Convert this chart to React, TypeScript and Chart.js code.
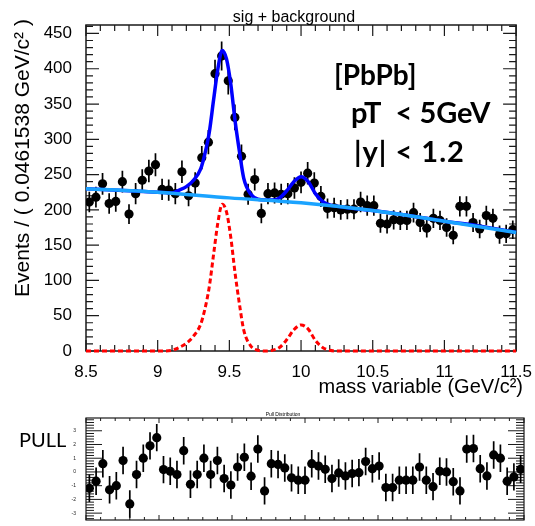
import React, { useEffect, useRef } from "react";
import { Chart, registerables } from "chart.js";

Chart.register(...registerables);

// ---------- axis / binning ----------
const X_MIN = 8.5;
const X_MAX = 11.5;
const BIN_WIDTH = 0.0461538;
const Y_MAX = 462;
const PULL_MIN = -3.5;
const PULL_MAX = 3.93;

const xTickValues = [8.5, 9, 9.5, 10, 10.5, 11, 11.5];
const yTickValues = [0, 50, 100, 150, 200, 250, 300, 350, 400, 450];
const pullTickValues = [-3, -2, -1, 0, 1, 2, 3];

// ---------- data (events per bin) ----------
const counts = [
  211, 218, 237, 209, 212, 240, 194, 223, 242, 255,
  264, 229, 228, 223, 254, 220, 238, 274, 296, 393,
  418, 383, 331, 276, 222, 243, 195, 223, 224, 222,
  223, 231, 239, 252, 238, 219, 202, 203, 200, 201,
  201, 211, 206, 206, 181, 180, 186, 185, 185, 196,
  182, 174, 188, 185, 175, 164, 205, 205, 182, 173,
  192, 188, 165, 166, 172,
];

// ---------- pulls per bin ----------
const pulls = [
  -1.19, -0.67, 0.6, -1.3, -1.0, 0.83, -2.33, -0.19, 1.0, 1.9,
  2.5, 0.17, 0.05, -0.19, 1.55, -0.9, -0.19, 1.0, -0.19, 0.83,
  -0.48, -0.95, 0.36, 1.07, -0.31, 1.67, -1.38, 0.6, 0.55, 0.29,
  -0.43, -0.6, -0.6, 0.6, 0.43, 0.19, -0.48, -0.07, -0.29, -0.12,
  -0.05, 0.76, 0.24, 0.43, -1.14, -1.14, -0.6, -0.6, -0.6, 0.36,
  -0.6, -1.07, 0.05, 0, -0.71, -1.38, 1.67, 1.71, 0.24, -0.29,
  1.24, 1.0, -0.67, -0.36, 0.19,
];

// ---------- background curve ----------
const bgX = [8.5, 9.0, 9.5, 10.0, 10.5, 11.0, 11.5];
const bgY = [230, 225, 217, 210, 199, 184, 168];

// ---------- total fit (sig + background) ----------
const fitX = [
  8.5, 8.8, 9.0, 9.1, 9.15, 9.2, 9.25, 9.3, 9.33, 9.36, 9.39, 9.42, 9.45,
  9.48, 9.51, 9.54, 9.57, 9.6, 9.65, 9.7, 9.75, 9.8, 9.85, 9.9, 9.95, 10.0,
  10.05, 10.1, 10.15, 10.2, 10.25, 10.5, 10.75, 11.0, 11.25, 11.5,
];
const fitY = [
  230, 227, 225, 224, 228, 233, 242, 258, 280, 310, 356, 400, 426,
  414, 378, 326, 283, 245, 222, 215, 214, 214, 217, 227, 240, 247,
  240, 223, 212, 207, 205, 199, 192, 184, 177, 168,
];

// ---------- signal only ----------
const sigX = [
  8.5, 9.05, 9.1, 9.15, 9.2, 9.25, 9.3, 9.33, 9.36, 9.39, 9.42, 9.45, 9.48,
  9.51, 9.54, 9.57, 9.6, 9.65, 9.7, 9.75, 9.8, 9.85, 9.9, 9.95, 10.0, 10.05,
  10.1, 10.15, 10.2, 10.25, 11.5,
];
const sigY = [
  0, 0, 1, 5, 11, 21, 38, 60, 91, 137, 182, 208, 197,
  161, 110, 67, 30, 7, 1, 0, 1, 5, 16, 30, 37, 31,
  15, 5, 1, 0, 0,
];

const FONT = '"Liberation Sans", Arial, sans-serif';
const LABEL_FONT = 'Lato, "Open Sans", sans-serif';

const zip = (xs: number[], ys: number[]) => xs.map((x, i) => ({ x, y: ys[i] }));
const binPoints = (vals: number[]) =>
  vals.map((v, i) => ({ x: X_MIN + (i + 0.5) * BIN_WIDTH, y: v }));
const fmt = (v: number) => String(Number(Number(v).toFixed(2)));

const mainDecor = {
  id: "mainDecor",
  beforeDatasetsDraw(chart: any) {
    const { ctx, chartArea: a } = chart;
    const x = chart.scales.x;
    const y = chart.scales.y;
    ctx.save();
    ctx.strokeStyle = "#1a1a1a";
    ctx.lineWidth = 1.5;
    ctx.strokeRect(a.left, a.top, a.right - a.left, a.bottom - a.top);
    ctx.lineWidth = 1.2;
    ctx.beginPath();
    for (let k = 0; k <= 30; k++) {
      const px = x.getPixelForValue(X_MIN + k * 0.1);
      const len = k % 5 === 0 ? 11 : 6;
      ctx.moveTo(px, a.bottom);
      ctx.lineTo(px, a.bottom - len);
      ctx.moveTo(px, a.top);
      ctx.lineTo(px, a.top + len);
    }
    for (let k = 0; k * 10 <= Y_MAX; k++) {
      const py = y.getPixelForValue(k * 10);
      const len = k % 5 === 0 ? 13 : 7;
      ctx.moveTo(a.left, py);
      ctx.lineTo(a.left + len, py);
      ctx.moveTo(a.right, py);
      ctx.lineTo(a.right - len, py);
    }
    ctx.stroke();
    ctx.strokeStyle = "#000";
    ctx.lineWidth = 1.7;
    ctx.beginPath();
    counts.forEach((c, i) => {
      const cx = x.getPixelForValue(X_MIN + (i + 0.5) * BIN_WIDTH);
      const e = Math.sqrt(c);
      ctx.moveTo(cx, y.getPixelForValue(c - e));
      ctx.lineTo(cx, y.getPixelForValue(c + e));
    });
    ctx.stroke();
    ctx.restore();
  },
  afterDraw(chart: any) {
    const { ctx } = chart;
    ctx.save();
    ctx.fillStyle = "#000";
    ctx.font = `16px ${FONT}`;
    ctx.textAlign = "center";
    ctx.textBaseline = "alphabetic";
    ctx.fillText("sig + background", 294, 22);
    ctx.font = `20px ${FONT}`;
    ctx.textAlign = "right";
    ctx.fillText("mass variable (GeV/c\u00B2)", 523, 393);
    ctx.save();
    ctx.translate(29, 158);
    ctx.rotate(-Math.PI / 2);
    ctx.textAlign = "center";
    ctx.font = `21px ${FONT}`;
    ctx.fillText("Events / ( 0.0461538 GeV/c\u00B2 )", 0, 0);
    ctx.restore();
    ctx.textAlign = "left";
    ctx.font = `bold 28px ${LABEL_FONT}`;
    ctx.fillText("[PbPb]", 334, 85);
    ctx.font = `bold 29px ${LABEL_FONT}`;
    ctx.fillText("pT  < 5GeV", 351, 123);
    (ctx as any).letterSpacing = "1px";
    ctx.fillText("|y| < 1.2", 354, 162);
    (ctx as any).letterSpacing = "0px";
    ctx.restore();
  },
};

const pullDecor = {
  id: "pullDecor",
  beforeDatasetsDraw(chart: any) {
    const { ctx, chartArea: a } = chart;
    const x = chart.scales.x;
    const y = chart.scales.y;
    ctx.save();
    ctx.strokeStyle = "#1a1a1a";
    ctx.lineWidth = 1.2;
    ctx.strokeRect(a.left, a.top, a.right - a.left, a.bottom - a.top);
    ctx.lineWidth = 1;
    ctx.beginPath();
    for (let k = 0; k <= 30; k++) {
      const px = x.getPixelForValue(X_MIN + k * 0.1);
      const len = k % 5 === 0 ? 5 : 3;
      ctx.moveTo(px, a.bottom);
      ctx.lineTo(px, a.bottom - len);
      ctx.moveTo(px, a.top);
      ctx.lineTo(px, a.top + len);
    }
    for (let k = -17; k <= 19; k++) {
      const v = k * 0.2;
      if (v < PULL_MIN || v > PULL_MAX) continue;
      const py = y.getPixelForValue(v);
      const len = k % 5 === 0 ? 16 : 8;
      ctx.moveTo(a.left, py);
      ctx.lineTo(a.left + len, py);
      ctx.moveTo(a.right, py);
      ctx.lineTo(a.right - len, py);
    }
    ctx.stroke();
    ctx.strokeStyle = "#000";
    ctx.lineWidth = 1.7;
    ctx.beginPath();
    pulls.forEach((p, i) => {
      const cx = x.getPixelForValue(X_MIN + (i + 0.5) * BIN_WIDTH);
      ctx.moveTo(cx, y.getPixelForValue(p - 1));
      ctx.lineTo(cx, y.getPixelForValue(p + 1));
    });
    ctx.stroke();
    ctx.restore();
  },
  afterDraw(chart: any) {
    const { ctx } = chart;
    ctx.save();
    ctx.fillStyle = "#000";
    ctx.font = `5px ${FONT}`;
    ctx.textAlign = "center";
    ctx.fillText("Pull Distribution", 283, 16);
    ctx.textAlign = "left";
    ctx.font = `20px ${LABEL_FONT}`;
    ctx.fillText("PULL", 19, 47);
    ctx.restore();
  },
};

export default function App() {
  const mainRef = useRef<HTMLCanvasElement>(null);
  const pullRef = useRef<HTMLCanvasElement>(null);

  useEffect(() => {
    const main = new Chart(mainRef.current as HTMLCanvasElement, {
      type: "scatter",
      data: {
        datasets: [
          {
            data: binPoints(counts),
            pointRadius: 4.6,
            pointBackgroundColor: "#000",
            pointBorderWidth: 0,
            showLine: false,
            order: 3,
          } as any,
          {
            data: zip(sigX, sigY),
            showLine: true,
            borderColor: "#ff0000",
            borderWidth: 3,
            borderDash: [5, 3],
            pointRadius: 0,
            cubicInterpolationMode: "monotone",
            clip: 6,
            order: 2,
          },
          {
            data: zip(fitX, fitY),
            showLine: true,
            borderColor: "#0000ff",
            borderWidth: 3.5,
            pointRadius: 0,
            cubicInterpolationMode: "monotone",
            clip: 6,
            order: 1,
          },
          {
            data: zip(bgX, bgY),
            showLine: true,
            borderColor: "#1aa3ff",
            borderWidth: 3.5,
            pointRadius: 0,
            cubicInterpolationMode: "monotone",
            clip: 6,
            order: 0,
          },
        ],
      },
      options: {
        responsive: false,
        animation: false,
        events: [],
        layout: { padding: { left: 0, top: 25, right: 11, bottom: 0 } },
        plugins: { legend: { display: false }, tooltip: { enabled: false }, title: { display: false } },
        scales: {
          x: {
            type: "linear",
            min: X_MIN,
            max: X_MAX,
            grid: { display: false },
            border: { display: false },
            ticks: {
              font: { size: 17, family: FONT },
              color: "#000",
              padding: 3,
              maxRotation: 0,
              autoSkip: false,
              callback: (v: any) => fmt(v),
            },
            afterBuildTicks: (s: any) => {
              s.ticks = xTickValues.map((v) => ({ value: v }));
            },
            afterFit: (s: any) => {
              s.height = 49;
            },
          },
          y: {
            type: "linear",
            min: 0,
            max: Y_MAX,
            grid: { display: false },
            border: { display: false },
            ticks: {
              font: { size: 17, family: FONT },
              color: "#000",
              padding: 6,
              autoSkip: false,
              callback: (v: any) => fmt(v),
            },
            afterBuildTicks: (s: any) => {
              s.ticks = yTickValues.map((v) => ({ value: v }));
            },
            afterFit: (s: any) => {
              s.width = 86;
            },
          },
        },
      } as any,
      plugins: [mainDecor],
    });

    const pull = new Chart(pullRef.current as HTMLCanvasElement, {
      type: "scatter",
      data: {
        datasets: [
          {
            data: binPoints(pulls),
            pointRadius: 4.6,
            pointBackgroundColor: "#000",
            pointBorderWidth: 0,
            showLine: false,
          } as any,
        ],
      },
      options: {
        responsive: false,
        animation: false,
        events: [],
        layout: { padding: { left: 0, top: 18, right: 11, bottom: 0 } },
        plugins: { legend: { display: false }, tooltip: { enabled: false } },
        scales: {
          x: {
            type: "linear",
            min: X_MIN,
            max: X_MAX,
            grid: { display: false },
            border: { display: false },
            ticks: {
              font: { size: 5, family: FONT },
              color: "#222",
              padding: 1,
              maxRotation: 0,
              autoSkip: false,
              callback: (v: any) => fmt(v),
            },
            afterBuildTicks: (s: any) => {
              s.ticks = xTickValues.map((v) => ({ value: v }));
            },
            afterFit: (s: any) => {
              s.height = 6;
            },
          },
          y: {
            type: "linear",
            min: PULL_MIN,
            max: PULL_MAX,
            grid: { display: false },
            border: { display: false },
            ticks: {
              font: { size: 5, family: FONT },
              color: "#222",
              padding: 2,
              autoSkip: false,
              callback: (v: any) => fmt(v),
            },
            afterBuildTicks: (s: any) => {
              s.ticks = pullTickValues.map((v) => ({ value: v }));
            },
            afterFit: (s: any) => {
              s.width = 86;
            },
          },
        },
      } as any,
      plugins: [pullDecor],
    });

    return () => {
      main.destroy();
      pull.destroy();
    };
  }, []);

  return (
    <div style={{ position: "absolute", left: 0, top: 0, width: 535, height: 526, background: "#fff" }}>
      <canvas
        ref={mainRef}
        width={535}
        height={400}
        style={{ position: "absolute", left: 0, top: 0, width: 535, height: 400 }}
      />
      <canvas
        ref={pullRef}
        width={535}
        height={126}
        style={{ position: "absolute", left: 0, top: 400, width: 535, height: 126 }}
      />
    </div>
  );
}
